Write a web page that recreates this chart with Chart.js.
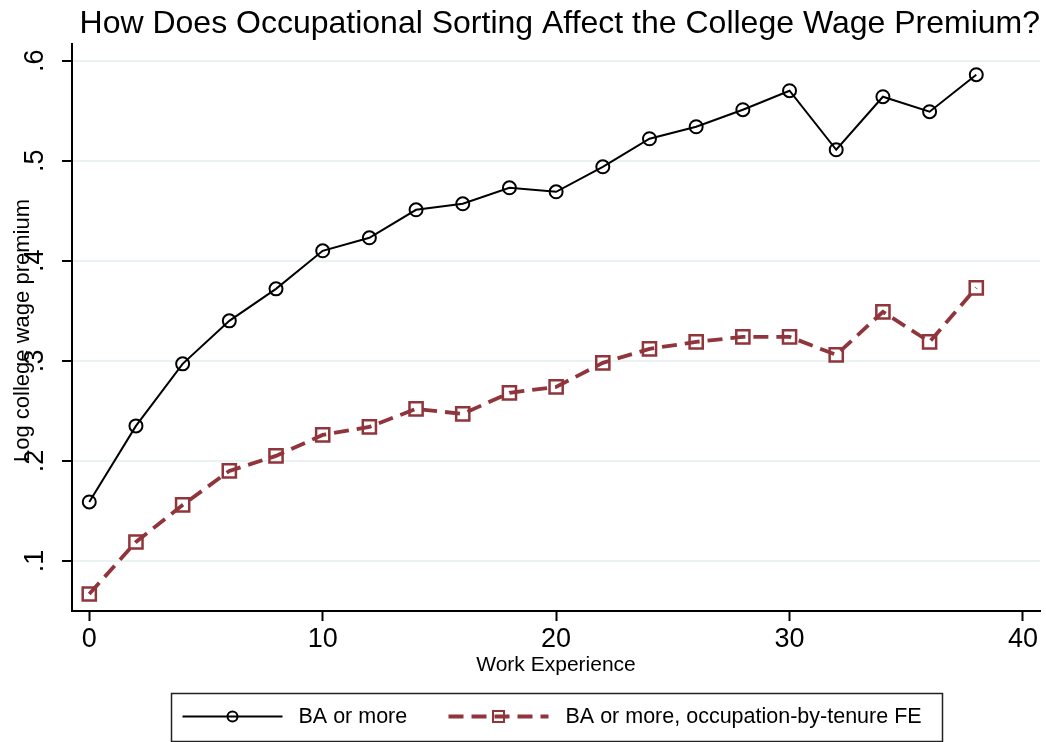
<!DOCTYPE html>
<html><head><meta charset="utf-8">
<script src="https://cdn.jsdelivr.net/npm/chart.js@4/dist/chart.umd.min.js"></script>
<style>html,body{margin:0;padding:0;background:#fff;}#wrap{width:1046px;height:742px;}</style>
</head><body><div id="wrap"><canvas id="c" width="1046" height="742"></canvas></div>
<script>
const experience = [0,2,4,6,8,10,12,14,16,18,20,22,24,26,28,30,32,34,36,38];
const baPremium = [0.159,0.235,0.297,0.340,0.372,0.410,0.423,0.451,0.457,0.473,0.469,0.494,0.522,0.534,0.551,0.570,0.511,0.564,0.549,0.586];
const baOccTenure = [0.067,0.119,0.156,0.190,0.205,0.226,0.234,0.252,0.247,0.268,0.274,0.298,0.312,0.319,0.324,0.324,0.306,0.349,0.319,0.373];
const xTicks = [0,10,20,30,40];
const yTicks = [0.1,0.2,0.3,0.4,0.5,0.6];
const yTickLabels = ['.1','.2','.3','.4','.5','.6'];
const seriesNames = ['BA or more','BA or more, occupation-by-tenure FE'];
const titleText = 'How Does Occupational Sorting Affect the College Wage Premium?';
const xTitle = 'Work Experience';
const yTitle = 'Log college wage premium';

const FONT = "'Liberation Sans', Arial, sans-serif";
const BLACK = '#000000';
const MAROON = 'rgb(144,53,59)';
const GRID = '#EAF2F3';

const stataPlugin = {
  id: 'stata',
  afterDraw(chart) {
    const ctx = chart.ctx;
    const ys = chart.scales.y;
    const area = chart.chartArea;
    ctx.save();
    ctx.fillStyle = BLACK;
    // title, right-aligned to the plot region
    ctx.font = '32px ' + FONT;
    ctx.textAlign = 'right';
    ctx.textBaseline = 'alphabetic';
    ctx.fillText(titleText, area.right, area.top - 11);
    // rotated y tick labels
    ctx.font = '27px ' + FONT;
    ctx.textAlign = 'center';
    yTicks.forEach((v, i) => {
      const py = ys.getPixelForValue(v);
      ctx.save();
      ctx.translate(area.left - 29, py);
      ctx.rotate(-Math.PI / 2);
      ctx.fillText(yTickLabels[i], 0, 0);
      ctx.restore();
    });
    // y title
    ctx.font = '22px ' + FONT;
    ctx.save();
    ctx.translate(area.left - 43, (area.top + area.bottom) / 2 + 3);
    ctx.rotate(-Math.PI / 2);
    ctx.fillText(yTitle, 0, 0);
    ctx.restore();

    // legend box
    const boxW = 771, boxH = 48;
    const cx = (area.left + area.right) / 2;
    const bx = Math.round(cx - boxW / 2) + 0.5;
    const by = 693.5;
    ctx.strokeStyle = '#222';
    ctx.lineWidth = 1.5;
    ctx.strokeRect(bx, by, boxW, boxH);
    const ly = by + 23;
    const ds = chart.data.datasets;
    const items = [
      {x0: bx + 11, x1: bx + 111, tx: bx + 127},
      {x0: bx + 277, x1: bx + 377, tx: bx + 394}
    ];
    items.forEach((it, i) => {
      const d = ds[i];
      ctx.save();
      ctx.strokeStyle = d.borderColor;
      ctx.lineWidth = d.borderWidth;
      ctx.setLineDash(d.borderDash || []);
      ctx.beginPath();
      ctx.moveTo(it.x0, ly);
      ctx.lineTo(it.x1, ly);
      ctx.stroke();
      ctx.setLineDash([]);
      const mx = (it.x0 + it.x1) / 2;
      ctx.lineWidth = 2;
      if (d.pointStyle === 'circle') {
        ctx.beginPath();
        ctx.arc(mx, ly, 5, 0, Math.PI * 2);
        ctx.stroke();
      } else {
        ctx.beginPath();
        ctx.rect(mx - 5.5, ly - 5.5, 11, 11);
        ctx.stroke();
      }
      ctx.restore();
      ctx.fillStyle = BLACK;
      ctx.font = '21.5px ' + FONT;
      ctx.textAlign = 'left';
      ctx.textBaseline = 'alphabetic';
      ctx.fillText(seriesNames[i], it.tx, ly + 6.5);
    });
    ctx.restore();
  }
};

new Chart(document.getElementById('c'), {
  type: 'line',
  data: {
    datasets: [
      {
        label: seriesNames[0],
        data: experience.map((x, i) => ({x: x, y: baPremium[i]})),
        borderColor: BLACK,
        borderWidth: 2,
        pointStyle: 'circle',
        pointRadius: 6.5,
        pointBorderWidth: 2,
        pointBorderColor: BLACK,
        pointBackgroundColor: 'rgba(0,0,0,0)',
        tension: 0,
        fill: false
      },
      {
        label: seriesNames[1],
        data: experience.map((x, i) => ({x: x, y: baOccTenure[i]})),
        borderColor: MAROON,
        borderWidth: 3.8,
        borderDash: [15, 8],
        pointStyle: 'rect',
        pointRadius: 9.3,
        pointBorderWidth: 2.5,
        pointBorderColor: MAROON,
        pointBackgroundColor: 'rgba(0,0,0,0)',
        tension: 0,
        fill: false
      }
    ]
  },
  options: {
    responsive: false,
    devicePixelRatio: 1,
    animation: false,
    layout: {autoPadding: false, padding: {left: 0, right: 6, top: 44, bottom: 60}},
    plugins: {
      legend: {display: false},
      tooltip: {enabled: false},
      title: {display: false}
    },
    scales: {
      x: {
        type: 'linear',
        min: -0.74,
        max: 40.73,
        afterBuildTicks: (s) => { s.ticks = xTicks.map(v => ({value: v})); },
        afterFit: (s) => { s.height = 71; s.paddingLeft = 0; s.paddingRight = 0; },
        ticks: {color: BLACK, font: {family: FONT, size: 27}, padding: 2, maxRotation: 0, autoSkip: false},
        grid: {drawOnChartArea: false, drawTicks: true, tickLength: 10, tickColor: BLACK, tickWidth: 2, color: BLACK},
        border: {display: true, color: BLACK, width: 2},
        title: {display: true, text: xTitle, color: BLACK, font: {family: FONT, size: 21, lineHeight: 1.2}, padding: {top: 0, bottom: 4}}
      },
      y: {
        type: 'linear',
        min: 0.05,
        max: 0.6167,
        afterBuildTicks: (s) => { s.ticks = yTicks.map(v => ({value: v})); },
        afterFit: (s) => { s.width = 72; s.paddingTop = 0; s.paddingBottom = 0; },
        ticks: {display: false},
        grid: {drawOnChartArea: true, drawTicks: true, tickLength: 10, color: GRID, lineWidth: 2, tickColor: BLACK, tickWidth: 2},
        border: {display: true, color: BLACK, width: 2}
      }
    }
  },
  plugins: [stataPlugin]
});
</script>
</body></html>
